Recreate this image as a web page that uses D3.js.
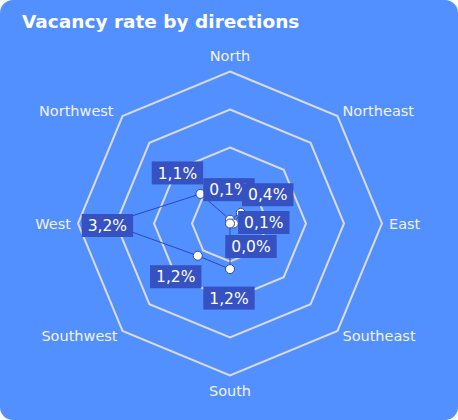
<!DOCTYPE html>
<html>
<head>
<meta charset="utf-8">
<script src="https://cdn.jsdelivr.net/npm/d3@7"></script>
<style>
  html, body { margin: 0; padding: 0; background: #fff; }
  svg { display: block; font-family: "DejaVu Sans", Verdana, sans-serif; }
</style>
</head>
<body>
<script>
// chart data
const directions = ["North", "Northeast", "East", "Southeast", "South", "Southwest", "West", "Northwest"];
const vacancy = [0.1, 0.4, 0.1, 0.0, 1.2, 1.2, 3.2, 1.1];
const ringTicks = [1, 2, 3, 4];

// where each data label box sits relative to its point (px)
const labelShift = [[-1, -30], [27, -18], [30, -1], [21, 23], [-1, 29], [-22, 21], [-1, 2], [-23, -21]];

const w = 458, h = 420;
const cx = 230, cy = 223.5, R = 152;

const svg = d3.select("body").append("svg")
  .attr("width", w)
  .attr("height", h);

// background card
svg.append("rect")
  .attr("width", w).attr("height", h)
  .attr("rx", 13).attr("ry", 13)
  .attr("fill", "#5290ff");

svg.append("text")
  .attr("x", 22).attr("y", 28)
  .attr("fill", "#fff")
  .attr("font-size", 18.5)
  .attr("font-weight", "bold")
  .text("Vacancy rate by directions");

const rScale = d3.scaleLinear().domain([0, 4]).range([0, R]);
const angle = d3.scalePoint().domain(directions).range([0, 2 * Math.PI * 7 / 8]);

const pt = (dir, v) => {
  const a = angle(dir);
  return [cx + rScale(v) * Math.sin(a), cy - rScale(v) * Math.cos(a)];
};

const g = svg.append("g");

// octagon grid rings
g.selectAll("path.ring")
  .data(ringTicks)
  .enter()
  .append("path")
  .attr("class", "ring")
  .attr("d", t => d3.line()(directions.map(d => pt(d, t))) + "Z")
  .attr("fill", "none")
  .attr("stroke", "#dadada")
  .attr("stroke-width", 2);

// direction labels
g.selectAll("text.dir")
  .data(directions)
  .enter()
  .append("text")
  .attr("class", "dir")
  .attr("x", d => {
    const s = Math.sin(angle(d)), c = Math.cos(angle(d));
    return cx + (R + 7) * s - (s < -0.5 && c > 0.5 ? 4 : 0);
  })
  .attr("y", d => {
    const c = Math.cos(angle(d));
    let y = cy - (R + 7) * c;
    if (c > 0.9) y -= 9;
    if (c < -0.9) y += 8;
    return y;
  })
  .attr("dy", "0.35em")
  .attr("text-anchor", d => {
    const s = Math.sin(angle(d));
    return s > 0.1 ? "start" : s < -0.1 ? "end" : "middle";
  })
  .attr("fill", "#f2f2f2")
  .attr("font-size", 14.5)
  .text(d => d);

// series polygon
const points = directions.map((d, i) => pt(d, vacancy[i]));
g.append("path")
  .attr("d", d3.line()(points) + "Z")
  .attr("fill", "none")
  .attr("stroke", "#2c47b8")
  .attr("stroke-width", 1);

g.selectAll("circle.marker")
  .data(points)
  .enter()
  .append("circle")
  .attr("class", "marker")
  .attr("cx", d => d[0])
  .attr("cy", d => d[1])
  .attr("r", 4.5)
  .attr("fill", "#fff")
  .attr("stroke", "#2c47b8")
  .attr("stroke-width", 1);

// data labels
const fmt = v => v.toFixed(1).replace(".", ",") + "%";
const lab = g.selectAll("g.dl")
  .data(points)
  .enter()
  .append("g")
  .attr("class", "dl")
  .attr("transform", (d, i) => `translate(${d[0] + labelShift[i][0]},${d[1] + labelShift[i][1]})`);

lab.append("rect")
  .attr("fill", "#3551c2");

lab.append("text")
  .attr("text-anchor", "middle")
  .attr("dy", "0.36em")
  .attr("fill", "#fff")
  .attr("font-size", 15.5)
  .text((d, i) => fmt(vacancy[i]));

lab.each(function () {
  const t = d3.select(this).select("text").node().getBBox();
  d3.select(this).select("rect")
    .attr("x", -t.width / 2 - 6)
    .attr("y", -11.5)
    .attr("width", t.width + 12)
    .attr("height", 23);
});
</script>
</body>
</html>
